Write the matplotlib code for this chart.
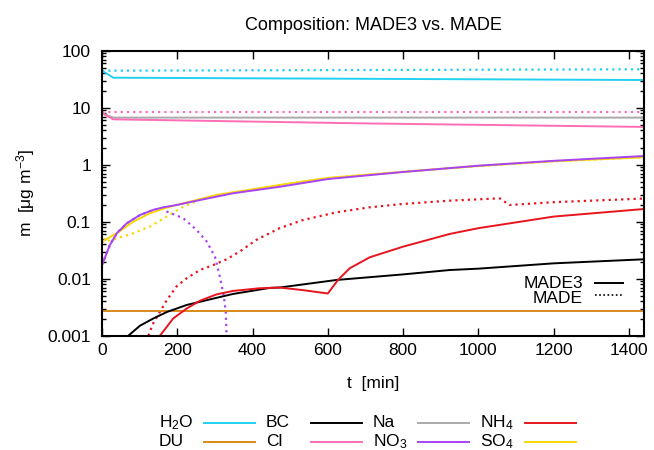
import matplotlib
matplotlib.use('Agg')
import matplotlib.pyplot as plt
from matplotlib.lines import Line2D
from matplotlib.ticker import FixedLocator, FuncFormatter, LogLocator, NullLocator

plt.rcParams['font.family'] = ['Liberation Sans', 'DejaVu Sans']
plt.rcParams['mathtext.fontset'] = 'custom'
plt.rcParams['mathtext.rm'] = 'Liberation Sans'
plt.rcParams['mathtext.it'] = 'Liberation Sans'

# species colours / labels
species = ['H2O', 'DU', 'BC', 'Cl', 'Na', 'NO3', 'NH4', 'SO4']
labels = [r'H$_2$O', 'DU', 'BC', 'Cl', 'Na', r'NO$_3$', r'NH$_4$', r'SO$_4$']
colours = {
    'H2O': '#22d0f0',
    'DU': '#d88a1a',
    'BC': '#000000',
    'Cl': '#ff6eb4',
    'Na': '#aaaaaa',
    'NO3': '#a843f5',
    'NH4': '#e8141e',
    'SO4': '#f8d800',
}

# MADE3 (solid)
h2o_t = [0, 30, 1440]
h2o_m = [44.6, 33.6, 30.6]
du_t = [0, 1440]
du_m = [0.00272, 0.00272]
bc_t = [70, 101, 136, 172, 225, 278, 348, 446, 472, 623, 800, 924, 1000, 1200, 1440]
bc_m = [0.001, 0.0015, 0.002, 0.0026, 0.00346, 0.0042, 0.0054, 0.0069, 0.007, 0.0095,
        0.0119, 0.0142, 0.015, 0.0186, 0.0219]
cl_t = [0, 30, 700, 1440]
cl_m = [8.0, 6.25, 5.3, 4.6]
na_t = [0, 30, 1440]
na_m = [8.0, 6.7, 6.7]
no3_t = [0, 21, 39, 66, 101, 136, 163, 198, 260, 348, 472, 600, 800, 1000, 1200, 1440]
no3_m = [0.0174, 0.039, 0.0625, 0.094, 0.131, 0.161, 0.179, 0.196, 0.24, 0.315, 0.41,
         0.56, 0.745, 0.96, 1.17, 1.42]
nh4_t = [154, 189, 225, 260, 304, 348, 419, 472, 534, 600, 627, 658, 711, 800, 924, 1000,
         1200, 1440]
nh4_m = [0.001, 0.002, 0.003, 0.0041, 0.0053, 0.0061, 0.0068, 0.007, 0.0063, 0.0055,
         0.0095, 0.0152, 0.0237, 0.0365, 0.061, 0.077, 0.123, 0.167]
so4_t = [0, 39, 83, 127, 172, 216, 304, 472, 600, 800, 1000, 1200, 1440]
so4_m = [0.045, 0.0625, 0.1, 0.14, 0.177, 0.21, 0.294, 0.44, 0.585, 0.75, 0.95, 1.15, 1.35]

# MADE (dotted)
h2o_t0 = [0, 1440]
h2o_m0 = [44.6, 47.2]
cl_t0 = [0, 1440]
cl_m0 = [8.4, 8.4]
no3_t0 = [0, 21, 39, 66, 101, 136, 160, 173, 216, 251, 278, 300, 313, 324, 329, 331]
no3_m0 = [0.0174, 0.039, 0.0625, 0.094, 0.131, 0.161, 0.172, 0.15, 0.115, 0.072, 0.045,
          0.0244, 0.0109, 0.0048, 0.0025, 0.001]
nh4_t0 = [123, 136, 154, 172, 198, 225, 260, 296, 331, 366, 410, 472, 534, 623, 711, 800,
          924, 1045, 1058, 1082, 1200, 1440]
nh4_m0 = [0.001, 0.00165, 0.00264, 0.0042, 0.0073, 0.0102, 0.0142, 0.0174, 0.0219, 0.03,
          0.048, 0.077, 0.107, 0.146, 0.179, 0.205, 0.234, 0.255, 0.255, 0.196, 0.22, 0.255]
so4_t0 = [0, 39, 83, 127, 172, 216, 260, 304, 472, 600, 800, 1000, 1200, 1440]
so4_m0 = [0.043, 0.051, 0.0625, 0.082, 0.123, 0.184, 0.24, 0.294, 0.44, 0.585, 0.75, 0.95,
          1.15, 1.35]

solid = {
    'H2O': (h2o_t, h2o_m), 'Na': (na_t, na_m), 'Cl': (cl_t, cl_m), 'DU': (du_t, du_m),
    'BC': (bc_t, bc_m), 'NH4': (nh4_t, nh4_m), 'SO4': (so4_t, so4_m), 'NO3': (no3_t, no3_m),
}
dotted = {
    'H2O': (h2o_t0, h2o_m0), 'Cl': (cl_t0, cl_m0), 'SO4': (so4_t0, so4_m0),
    'NO3': (no3_t0, no3_m0), 'NH4': (nh4_t0, nh4_m0),
}

fs = 12.5
W, H = 654, 450
fig = plt.figure(figsize=(W / 100, H / 100), dpi=100)
ax = fig.add_axes([102 / W, 1 - 335.7 / H, 542 / W, 285 / H])

lw = 1.4
dots = (0, (1, 1.8))
for s, (t, m) in dotted.items():
    ax.plot(t, m, color=colours[s], lw=1.6, linestyle=dots)
for s, (t, m) in solid.items():
    ax.plot(t, m, color=colours[s], lw=lw, linestyle='solid')

ax.set_yscale('log')
ax.set_xlim(0, 1440)
ax.set_ylim(0.001, 100)
ax.xaxis.set_major_locator(FixedLocator([0, 200, 400, 600, 800, 1000, 1200, 1400]))
ax.xaxis.set_minor_locator(NullLocator())
ax.yaxis.set_major_locator(LogLocator(base=10, numticks=10))
ax.yaxis.set_minor_locator(LogLocator(base=10, subs=range(2, 10), numticks=20))
ax.yaxis.set_major_formatter(FuncFormatter(lambda v, p: '%g' % v))
ax.tick_params(which='both', direction='in', top=True, right=True, labelsize=fs)
ax.tick_params(which='major', length=6, width=1)
ax.tick_params(which='minor', length=3, width=1)
ax.tick_params(axis='x', pad=5.5)
ax.tick_params(axis='y', pad=8)
for sp in ax.spines.values():
    sp.set_linewidth(1.5)

ax.set_title('Composition: MADE3 vs. MADE', fontsize=13, pad=15)
ax.set_xlabel('t  [min]', fontsize=fs, labelpad=12.5)
ax.set_ylabel(r'm  [$\mu$g m$^{-3}$]', fontsize=fs, labelpad=7.5)


def key(x_text, x0, x1, y_text, y_line, text, colour, style, ha):
    fig.text(x_text / W, 1 - y_text / H, text, fontsize=fs, ha=ha, va='baseline')
    fig.add_artist(Line2D([x0 / W, x1 / W], [1 - y_line / H, 1 - y_line / H],
                          transform=fig.transFigure, color=colour, lw=lw if style == '-' else 1.2,
                          linestyle='solid' if style == '-' else (0, (1, 1.5))))


# model key inside the plot
key(583, 595, 623, 288.3, 283, 'MADE3', 'black', '-', 'right')
key(583, 595, 623, 303, 294.5, 'MADE', 'black', ':', 'right')

# species key below the plot, two rows of four
col_x = [159, 266, 373, 480]
row_text = [427, 446.5]
row_line = [422.7, 441.7]
for i, s in enumerate(species):
    c, r = i // 2, i % 2
    key(col_x[c], col_x[c] + 45, col_x[c] + 96, row_text[r], row_line[r], labels[i],
        colours[s], '-', 'left')

fig.savefig('out.png', dpi=100)
